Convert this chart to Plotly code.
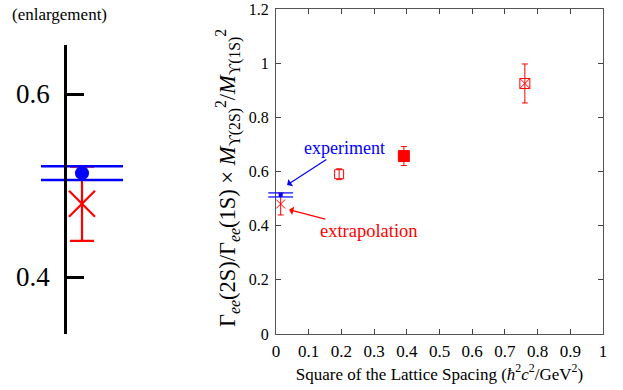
import plotly.graph_objects as go

# ---- data ----
lat_a2 = [0.193, 0.391, 0.761]          # square of lattice spacing
lat_ratio = [0.590, 0.657, 0.925]
lat_err = [0.020, 0.035, 0.072]
lat_symbols = ["square-open", "square", "square-x-open"]
lat_sizes = [9, 11, 10]

exp_a2 = 0.0143
exp_val = 0.5135
exp_err = 0.0075

extrap_a2 = 0.0143
extrap_val = 0.480
extrap_err = 0.0405

x_ticks = [0, 0.1, 0.2, 0.3, 0.4, 0.5, 0.6, 0.7, 0.8, 0.9, 1]
x_ticklabels = ["0", "0.1", "0.2", "0.3", "0.4", "0.5", "0.6", "0.7", "0.8", "0.9", "1"]
y_ticks = [0, 0.2, 0.4, 0.6, 0.8, 1, 1.2]
y_ticklabels = ["0", "0.2", "0.4", "0.6", "0.8", "1", "1.2"]
inset_ticks = [0.4, 0.6]
inset_ticklabels = ["0.4", "0.6"]

RED = "#ff0000"
BLUE = "#0000ff"
SERIF = "Liberation Serif, Times New Roman, Times, serif"

W, H = 623, 390
ML, MR, MT, MB = 0, 20, 9, 56
PW = W - ML - MR          # 603
PH = H - MT - MB          # 325
AX_LEFT = 276             # main plot left edge (px)

fig = go.Figure()

# ---- main plot ----
for xv, yv, ev, sym, sz in zip(lat_a2, lat_ratio, lat_err, lat_symbols, lat_sizes):
    fig.add_trace(go.Scatter(
        x=[xv], y=[yv], mode="markers",
        marker=dict(symbol=sym, size=sz, color=RED, line=dict(color=RED, width=1)),
        error_y=dict(type="data", array=[ev], color=RED, thickness=1, width=3),
        xaxis="x", yaxis="y", showlegend=False, cliponaxis=False))

# experiment band (main) on an overlay x-axis with the same scale, extending left of the frame
fig.add_trace(go.Scatter(
    x=[exp_a2, exp_a2], y=[exp_val - exp_err, exp_val + exp_err], mode="markers",
    marker=dict(size=1, color="rgba(0,0,0,0)"),
    error_x=dict(type="data", array=[0.038, 0.038], color=BLUE, thickness=1.2, width=0),
    xaxis="x3", yaxis="y", showlegend=False, cliponaxis=False))

# extrapolation (main)
fig.add_trace(go.Scatter(
    x=[extrap_a2], y=[extrap_val], mode="markers",
    marker=dict(symbol="x-thin-open", size=9, color=RED, line=dict(color=RED, width=1)),
    error_y=dict(type="data", array=[extrap_err], color=RED, thickness=1, width=3),
    xaxis="x", yaxis="y", showlegend=False, cliponaxis=False))

fig.add_trace(go.Scatter(
    x=[exp_a2], y=[exp_val], mode="markers",
    marker=dict(symbol="square", size=4, color=BLUE),
    xaxis="x", yaxis="y", showlegend=False, cliponaxis=False))

# ---- inset (enlargement) ----
fig.add_trace(go.Scatter(
    x=[extrap_a2], y=[extrap_val], mode="markers",
    marker=dict(symbol="x-thin-open", size=26, color=RED, line=dict(color=RED, width=2.2)),
    error_y=dict(type="data", array=[extrap_err], color=RED, thickness=2.2, width=12),
    xaxis="x2", yaxis="y2", showlegend=False, cliponaxis=False))
fig.add_trace(go.Scatter(
    x=[exp_a2, exp_a2], y=[exp_val - exp_err, exp_val + exp_err], mode="markers",
    marker=dict(size=1, color="rgba(0,0,0,0)"),
    error_x=dict(type="data", array=[0.041, 0.041], color=BLUE, thickness=2.5, width=0),
    xaxis="x2", yaxis="y2", showlegend=False, cliponaxis=False))
fig.add_trace(go.Scatter(
    x=[exp_a2], y=[exp_val], mode="markers",
    marker=dict(symbol="circle", size=14, color=BLUE),
    xaxis="x2", yaxis="y2", showlegend=False, cliponaxis=False))

ytitle = ("Γ<sub><i>ee</i></sub>(2S)/Γ<sub><i>ee</i></sub>(1S) × "
          "<i>M</i><sub>ϒ(2S)</sub><sup>2</sup>/<i>M</i><sub>ϒ(1S)</sub><sup>2</sup>")
xtitle = "Square of the Lattice Spacing (<i>ħ</i><sup>2</sup><i>c</i><sup>2</sup>/GeV<sup>2</sup>)"

EXT = 12  # px the overlay axis extends left of the frame

fig.update_layout(
    width=W, height=H,
    margin=dict(l=ML, r=MR, t=MT, b=MB, autoexpand=False),
    paper_bgcolor="white", plot_bgcolor="rgba(0,0,0,0)",
    font=dict(family=SERIF, color="black"),
    xaxis=dict(domain=[AX_LEFT / PW, 1], range=[0, 1], tickvals=x_ticks, ticktext=x_ticklabels,
               ticks="inside", ticklen=5, tickcolor="#444", showline=True, linecolor="#555",
               linewidth=1, mirror="ticks", showgrid=False, zeroline=False, automargin=False,
               tickfont=dict(size=17, family=SERIF), ticklabelstandoff=2,
               ticklabeloverflow="allow",
               title=dict(text=xtitle, font=dict(size=17, family=SERIF), standoff=4)),
    yaxis=dict(domain=[0, 1], range=[0, 1.2], tickvals=y_ticks, ticktext=y_ticklabels,
               ticks="inside", ticklen=5, tickcolor="#444", showline=True, linecolor="#555",
               linewidth=1, mirror="ticks", showgrid=False, zeroline=False, automargin=False,
               tickfont=dict(size=16, family=SERIF), ticklabelstandoff=3,
               ticklabeloverflow="allow"),
    xaxis3=dict(domain=[(AX_LEFT - EXT) / PW, 1], range=[-EXT / (PW - AX_LEFT), 1],
                anchor="y", visible=False),
    xaxis2=dict(domain=[0, 150 / PW], range=[exp_a2 - 0.082, exp_a2 + 0.068], visible=False,
                anchor="y2"),
    yaxis2=dict(domain=[0, (334 - 45) / PH], range=[0.3377, 0.6536], anchor="free",
                position=65 / PW, tickvals=inset_ticks, ticktext=inset_ticklabels,
                ticks="inside", ticklen=17, tickwidth=2.5, tickcolor="black", automargin=False,
                showline=True, linecolor="black", linewidth=2.5, showgrid=False,
                zeroline=False, tickfont=dict(size=27, family=SERIF), ticklabelstandoff=9),
    annotations=[
        dict(text="(enlargement)", xref="paper", yref="paper", x=10 / PW, y=(334 - 3) / PH,
             xanchor="left", yanchor="top", showarrow=False,
             font=dict(size=17, family=SERIF)),
        dict(text=ytitle, xref="paper", yref="paper", x=228 / PW, y=(334 - 178) / PH,
             xanchor="center", yanchor="middle", textangle=-90, showarrow=False,
             font=dict(size=22.5, family=SERIF)),
        dict(text="experiment", xref="x", yref="y", x=0.034, y=0.550,
             ax=57, ay=-37, showarrow=True, arrowhead=1, arrowsize=1.2, arrowwidth=1.2,
             arrowcolor=BLUE, font=dict(size=18, family=SERIF, color=BLUE)),
        dict(text="extrapolation", xref="x", yref="y", x=0.040, y=0.459,
             ax=80, ay=21, showarrow=True, arrowhead=1, arrowsize=1.2, arrowwidth=1.2,
             arrowcolor=RED, font=dict(size=18.5, family=SERIF, color=RED)),
    ],
)

fig.write_html("out.html", config={"displayModeBar": False},
               post_script="document.body.style.margin='0px';")
